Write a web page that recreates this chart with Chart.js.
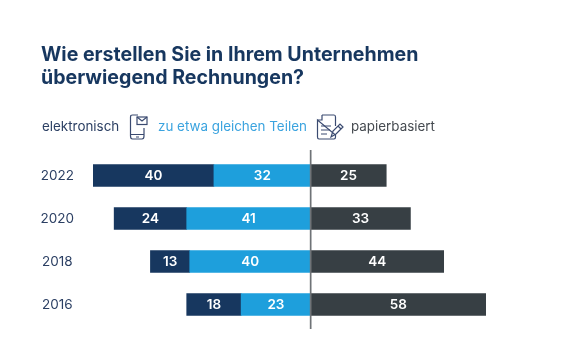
<!DOCTYPE html>
<html lang="de">
<head>
<meta charset="utf-8">
<title>Rechnungen</title>
<script src="https://cdn.jsdelivr.net/npm/chart.js@4"></script>
<style>
    html, body { margin: 0; padding: 0; background: #fff; overflow: hidden; }
    #wrap { position: relative; width: 561px; height: 358px; font-family: Inter, sans-serif; }
    #chart { position: absolute; left: 0; top: 0; }
    h1 { position: absolute; left: 41px; top: 42.500px; margin: 0; font-size: 19.600px; line-height: 23.500px; font-weight: 700; color: #17375f; white-space: nowrap; }
    .key { position: absolute; top: 117px; font-size: 13.400px; line-height: 18px; white-space: nowrap; }
    svg { position: absolute; fill: none; stroke-width: 1.2; }
</style>
</head>
<body>
<div id="wrap">
    <canvas id="chart" width="561" height="358"></canvas>
    <h1>Wie erstellen Sie in Ihrem Unternehmen<br>überwiegend Rechnungen?</h1>
    <span class="key" style="left:42px;color:#2b3f63">elektronisch</span>
    <svg style="left:129px;top:114px" width="20" height="26" viewBox="0 0 20 26" stroke="#3a4a70">
        <path d="M9 1H3.5Q1.5 1 1.5 3V22Q1.5 25 3.5 25H13Q15 25 15 22V14"/>
        <path d="M1.5 20.500H15M7 23H10"/>
        <rect x="8" y="3" width="10" height="7.500"/>
        <path d="M8 3L13 7L18 3"/>
    </svg>
    <span class="key" style="left:158px;color:#3aa3df">zu etwa gleichen Teilen</span>
    <svg style="left:316px;top:114px" width="28" height="26" viewBox="0 0 28 26" stroke="#3a4a70">
        <path d="M6 1H18Q19.500 1 19.500 3V12M19.500 21V23Q19.500 25 18 25H3Q1.500 25 1.500 23V6Z"/>
        <path d="M1.500 6H6V1M5 12H15M5 16H14M5 20H11"/>
        <path d="M15 23L17 17L24 10L27 13L20 20ZM22 12L25 15"/>
    </svg>
    <span class="key" style="left:351px;color:#454a50">papierbasiert</span>
</div>
<script>
const categories = ["2022", "2020", "2018", "2016"];
const elektronisch = [40, 24, 13, 18];
const gleicheTeile = [32, 41, 40, 23];
const papierbasiert = [25, 33, 44, 58];

// Werte als Text in die Balken schreiben
const valueLabels = {
    id: "valueLabels",
    afterDatasetsDraw(chart) {
        const ctx = chart.ctx;
        ctx.save();
        ctx.font = "600 13.5px Inter, sans-serif";
        ctx.fillStyle = "#fff";
        ctx.textAlign = "center";
        ctx.textBaseline = "middle";
        chart.data.datasets.forEach((dataset, i) => {
            chart.getDatasetMeta(i).data.forEach((bar, j) => {
                const c = bar.getCenterPoint();
                ctx.fillText(Math.abs(dataset.data[j]), c.x, c.y);
            });
        });
        ctx.restore();
    },
};

// Senkrechte Linie bei null
const zeroLine = {
    id: "zeroLine",
    afterDatasetsDraw(chart) {
        const x = chart.scales.x.getPixelForValue(0);
        const ctx = chart.ctx;
        ctx.save();
        ctx.strokeStyle = "#6f7377";
        ctx.lineWidth = 1.7;
        ctx.beginPath();
        ctx.moveTo(x, chart.chartArea.top - 4);
        ctx.lineTo(x, chart.chartArea.bottom + 3);
        ctx.stroke();
        ctx.restore();
    },
};

new Chart(document.getElementById("chart"), {
    type: "bar",
    data: {
        labels: categories,
        datasets: [
            { label: "zu etwa gleichen Teilen", data: gleicheTeile.map((v) => -v), backgroundColor: "#1e9fdc" },
            { label: "elektronisch", data: elektronisch.map((v) => -v), backgroundColor: "#17375f" },
            { label: "papierbasiert", data: papierbasiert, backgroundColor: "#373f44" },
        ],
    },
    options: {
        indexAxis: "y",
        responsive: false,
        animation: false,
        layout: { padding: { top: 154, right: 75, bottom: 32, left: 0 } },
        datasets: { bar: { barThickness: 22 } },
        plugins: { legend: { display: false }, tooltip: { enabled: false } },
        scales: {
            x: { stacked: true, display: false, min: -72, max: 58 },
            y: {
                stacked: true,
                afterFit: (axis) => { axis.width = 93; },
                grid: { display: false, drawTicks: false },
                border: { display: false },
                ticks: { padding: 19, crossAlign: "center", color: "#2b3f63", font: { family: "Inter, sans-serif", size: 13.5 } },
            },
        },
    },
    plugins: [valueLabels, zeroLine],
});
</script>
</body>
</html>
